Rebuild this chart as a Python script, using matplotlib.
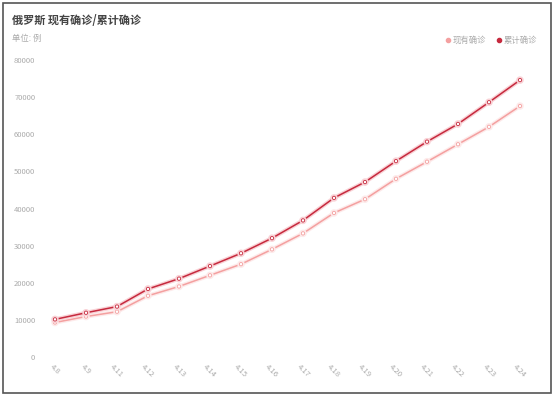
import matplotlib
matplotlib.use("Agg")
import matplotlib.pyplot as plt
from matplotlib.lines import Line2D
import matplotlib.patheffects as pe

plt.rcParams['font.family'] = ['Noto Sans CJK SC', 'DejaVu Sans']

dates = ['4.8', '4.9', '4.11', '4.12', '4.13', '4.14', '4.15', '4.16',
         '4.17', '4.18', '4.19', '4.20', '4.21', '4.22', '4.23', '4.24']
current = [9300, 10900, 12200, 16500, 19000, 22000, 25000, 29000,
           33300, 38800, 42500, 48000, 52600, 57300, 62000, 67600]
total = [10131, 11917, 13584, 18328, 21102, 24490, 27938, 32008,
         36793, 42853, 47121, 52763, 57999, 62773, 68622, 74588]
yticks = [0, 10000, 20000, 30000, 40000, 50000, 60000, 70000, 80000]

W, H = 554, 396
fig = plt.figure(figsize=(W / 100, H / 100), dpi=100)
ax = fig.add_axes([39.5 / W, (H - 357) / H, (535.5 - 39.5) / W, (357 - 60) / H])

c_cur = '#f4a0a0'
c_tot = '#c62a3e'
x = list(range(len(dates)))

ax.plot(x, current, color=c_cur, lw=1.1, marker='o', ms=2.4, mfc='white',
        mec=c_cur, mew=0.6,
        path_effects=[pe.Stroke(linewidth=3.0, foreground='#fdeaea'), pe.Normal()])
ax.plot(x, total, color=c_tot, lw=1.1, marker='o', ms=2.4, mfc='white',
        mec=c_tot, mew=0.6,
        path_effects=[pe.Stroke(linewidth=3.0, foreground='#f9d2d6'), pe.Normal()])

ax.set_xlim(-0.5, len(dates) - 0.5)
ax.set_ylim(0, 80000)
ax.set_yticks(yticks)
ax.set_yticklabels([str(v) for v in yticks], fontsize=5.5, color='#aaaaaa')
ax.set_xticks(x)
ax.set_xticklabels(dates, fontsize=5.5, color='#aaaaaa', rotation=-45,
                   ha='center', va='top')
ax.tick_params(axis='both', length=0, pad=3)
ax.tick_params(axis='x', pad=4)
for s in ax.spines.values():
    s.set_visible(False)
ax.grid(False)

fig.text(12 / W, 1 - 20 / H, '俄罗斯 现有确诊/累计确诊', fontsize=8, fontweight='bold',
         color='#444444', va='center', ha='left')
fig.text(12 / W, 1 - 38 / H, '单位: 例', fontsize=6, color='#aaaaaa', va='center', ha='left')

handles = [Line2D([], [], ls='none', marker='o', ms=3.0, color=c_cur),
           Line2D([], [], ls='none', marker='o', ms=3.0, color=c_tot)]
fig.legend(handles, ['现有确诊', '累计确诊'], loc='center right',
           bbox_to_anchor=(545 / W, 1 - 40 / H), ncol=2, frameon=False,
           fontsize=6, labelcolor='#aaaaaa', handletextpad=0.1,
           columnspacing=1.0, handlelength=1.0)

border = plt.Rectangle((3 / W, 3 / H), (W - 6) / W, (H - 6) / H,
                       transform=fig.transFigure, fill=False,
                       edgecolor='#555555', lw=1.2)
fig.patches.append(border)

fig.savefig('out.png', dpi=100)
